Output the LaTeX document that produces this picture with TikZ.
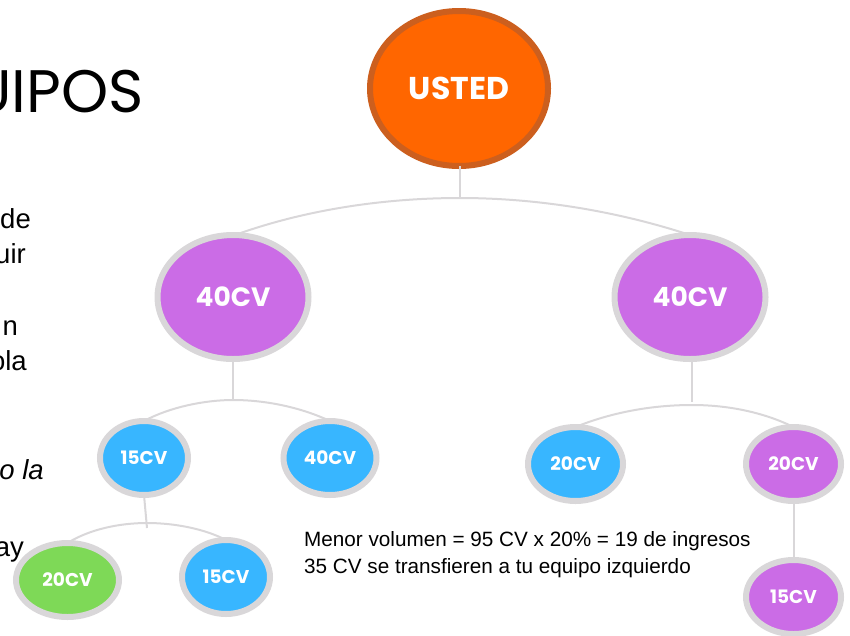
\documentclass[tikz,border=0pt]{standalone}
\usepackage{fontspec}
\setmainfont{Liberation Sans}
\newfontfamily\popbold{Poppins}[UprightFont=* Bold]
\newfontfamily\poplight{Poppins}
\definecolor{orng}{HTML}{FF6600}
\definecolor{orngedge}{HTML}{CC5F1E}
\definecolor{purp}{HTML}{CB6CE6}
\definecolor{blu}{HTML}{38B6FF}
\definecolor{grn}{HTML}{7ED957}
\definecolor{edge}{HTML}{D9D7D9}
\tikzset{
 x=1pt,y=-1pt,
 bub/.style={ellipse,draw=edge,line width=6pt,inner sep=0pt,outer sep=0pt,text=white},
 big/.style={bub,minimum width=151pt,minimum height=124pt,font=\popbold\fontsize{26.5}{26.5}\selectfont},
 small/.style={bub,minimum width=88pt,minimum height=74pt,font=\popbold\fontsize{18.5}{18.5}\selectfont},
 wire/.style={draw=edge,line width=2pt},
 frag/.style={anchor=base east,inner sep=0pt,font=\fontsize{27.5}{27.5}\selectfont},
 note/.style={anchor=base west,inner sep=0pt,font=\fontsize{20.7}{20.7}\selectfont},
}
\usetikzlibrary{shapes.geometric}
\begin{document}
\begin{tikzpicture}
\useasboundingbox (0,0) rectangle (850,635);
\clip (0,0) rectangle (850,635);
\node[anchor=base east,inner sep=0pt,font=\poplight\fontsize{60}{60}\selectfont] (title) at (144,112) {UIPOS};
\node[frag] (t1) at (31,228) {de};
\node[frag] (t2) at (26,263) {uir};
\node[frag] (t3) at (18,335) {n};
\node[frag] (t4) at (27,370) {ola};
\node[frag] (t5) at (44,479) {\itshape o la};
\node[frag] (t6) at (24,556) {ay};

\coordinate (j0) at (460,198);
\coordinate (j1) at (233,400);
\coordinate (j2) at (692,405);
\coordinate (j3) at (147,523);

\node[bub,draw=orngedge,fill=orng,minimum width=178pt,minimum height=155pt,font=\popbold\fontsize{31.5}{31.5}\selectfont] (you) at (459,88.5) {\raisebox{1pt}{USTED}};
\node[big,fill=purp] (l) at (233,297) {40CV};
\node[big,fill=purp] (r) at (690,297) {40CV};
\node[small,fill=blu] (ll) at (144,458) {15CV};
\node[small,fill=blu,minimum width=93pt] (lr) at (330,458) {40CV};
\node[small,fill=blu,minimum width=95pt] (rl) at (575.5,464) {20CV};
\node[small,fill=purp,minimum width=95pt] (rr) at (793.5,464) {20CV};
\node[small,fill=grn,minimum width=103pt] (lll) at (67.5,580) {20CV};
\node[small,fill=blu] (llr) at (226,577) {15CV};
\node[small,fill=purp,minimum width=95pt] (rrb) at (793.5,597) {15CV};

\draw[wire] (you.south -| j0) -- (j0);
\draw[wire] (l.north) ++(2,0) .. controls (310,208) and (390,198) .. (j0) .. controls (540,198) and (620,212) .. (r.north);
\draw[wire] (l.south) -- (j1);
\draw[wire] (ll.north) .. controls (170,407) and (205,400) .. (j1) .. controls (265,400) and (300,407) .. (lr.north);
\draw[wire] (r.south -| j2) -- (692,402);
\draw[wire] (rl.north) .. controls (610,413) and (650,405) .. (j2) .. controls (730,405) and (765,413) .. (rr.north);
\draw[wire] (ll.south) -- (147,528);
\draw[wire] (lll.north) .. controls (90,529) and (120,523) .. (j3) .. controls (175,523) and (205,529) .. (llr.north);
\draw[wire] (rr.south) -- (rrb.north);

\node[note] (n1) at (304,546.5) {Menor volumen = 95 CV x 20\% = 19 de ingresos};
\node[note] (n2) at (304,573.5) {35 CV se transfieren a tu equipo izquierdo};
\end{tikzpicture}
\end{document}
